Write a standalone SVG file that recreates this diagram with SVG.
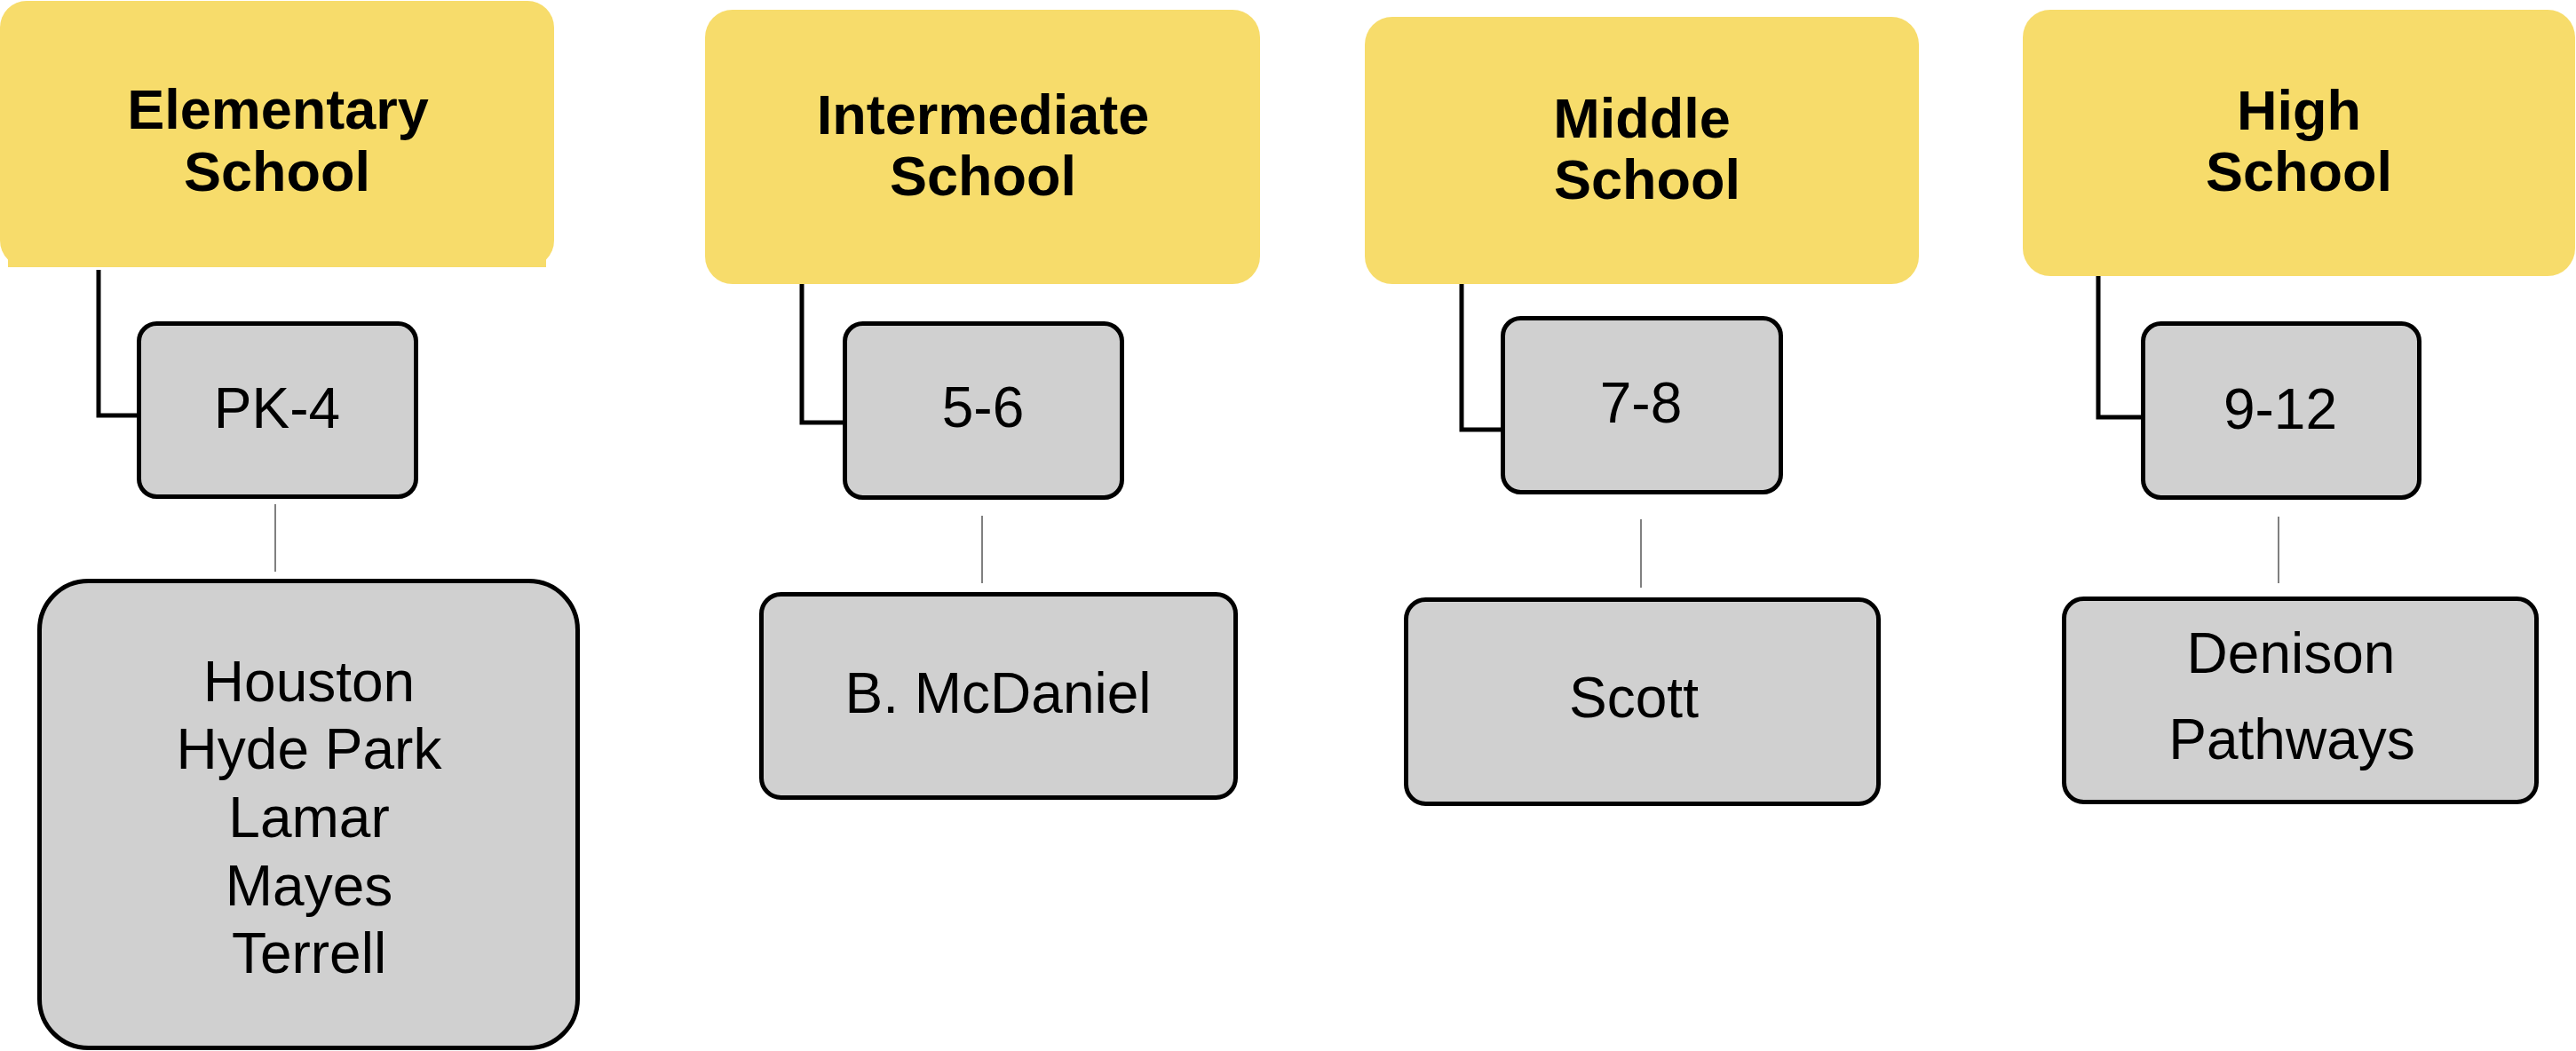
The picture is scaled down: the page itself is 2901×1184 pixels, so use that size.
<svg xmlns="http://www.w3.org/2000/svg" width="2901" height="1184" viewBox="0 0 2901 1184">
<style>
.head{fill:#F7DC6B;stroke:none}
.box{fill:#D0D0D0;stroke:#000;stroke-width:5}
.ht{font-family:"Liberation Sans",Arial,sans-serif;font-weight:bold;font-size:63px;fill:#000;text-anchor:middle}
.bt{font-family:"Liberation Sans",Arial,sans-serif;font-size:64px;fill:#000;text-anchor:middle}
.elbow{fill:none;stroke:#000;stroke-width:5;stroke-linejoin:miter}
.thin{fill:none;stroke:#808080;stroke-width:2}
</style>
<rect width="2901" height="1184" fill="#fff"/>
<g id="connectors">
<path class="elbow" d="M111 304 V468 H156"/>
<path class="elbow" d="M903 312 V476 H951"/>
<path class="elbow" d="M1646 318 V484 H1692"/>
<path class="elbow" d="M2363 306 V470 H2413"/>
<line class="thin" x1="310" y1="568" x2="310" y2="644"/>
<line class="thin" x1="1106" y1="581" x2="1106" y2="657"/>
<line class="thin" x1="1848" y1="585" x2="1848" y2="662"/>
<line class="thin" x1="2566" y1="582" x2="2566" y2="657"/>
</g>
<g id="elementary">
<rect class="head" x="0" y="1" width="624" height="300" rx="30"/>
<rect class="head" x="9" y="260" width="606" height="41"/>
<text class="ht" x="313" y="145">Elementary</text>
<text class="ht" x="312" y="215">School</text>
</g>
<g id="intermediate">
<rect class="head" x="794" y="11" width="625" height="309" rx="31"/>
<text class="ht" x="1107" y="151">Intermediate</text>
<text class="ht" x="1107" y="220">School</text>
</g>
<g id="middle">
<rect class="head" x="1537" y="19" width="624" height="301" rx="31"/>
<text class="ht" x="1849" y="155">Middle</text>
<text class="ht" x="1855" y="224">School</text>
</g>
<g id="high">
<rect class="head" x="2278" y="11" width="622" height="300" rx="31"/>
<text class="ht" x="2589" y="146">High</text>
<text class="ht" x="2589" y="215">School</text>
</g>
<g id="pk4">
<rect class="box" x="156.5" y="364.5" width="312" height="195" rx="20"/>
<text class="bt" x="312" y="482">PK-4</text>
</g>
<g id="g56">
<rect class="box" x="951.5" y="364.5" width="312" height="196" rx="20"/>
<text class="bt" x="1107" y="481">5-6</text>
</g>
<g id="g78">
<rect class="box" x="1692.5" y="358.5" width="313" height="196" rx="20"/>
<text class="bt" x="1848" y="476">7-8</text>
</g>
<g id="g912">
<rect class="box" x="2413.5" y="364.5" width="311" height="196" rx="20"/>
<text class="bt" x="2568" y="483">9-12</text>
</g>
<g id="elementary-schools">
<rect class="box" x="44.5" y="654.5" width="606" height="526" rx="55"/>
<text class="bt" x="348" y="790">Houston</text>
<text class="bt" x="348" y="866">Hyde Park</text>
<text class="bt" x="348" y="943">Lamar</text>
<text class="bt" x="348" y="1020">Mayes</text>
<text class="bt" x="348" y="1096">Terrell</text>
</g>
<g id="mcdaniel">
<rect class="box" x="857.5" y="669.5" width="534" height="229" rx="22"/>
<text class="bt" x="1124" y="803">B. McDaniel</text>
</g>
<g id="scott">
<rect class="box" x="1583.5" y="675.5" width="532" height="230" rx="22"/>
<text class="bt" x="1840" y="808">Scott</text>
</g>
<g id="denison">
<rect class="box" x="2324.5" y="674.5" width="532" height="229" rx="22"/>
<text class="bt" x="2580" y="758">Denison</text>
<text class="bt" x="2581" y="855">Pathways</text>
</g>
</svg>
